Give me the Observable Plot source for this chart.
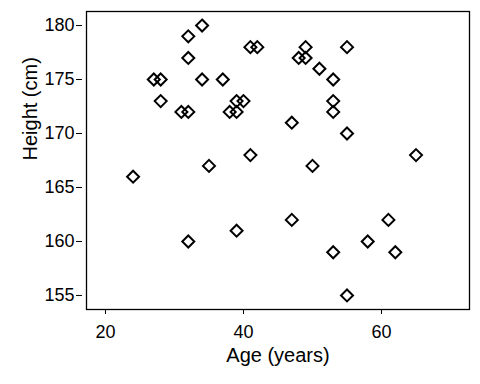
<!DOCTYPE html>
<html>
<head>
<meta charset="utf-8">
<script src="https://cdn.jsdelivr.net/npm/d3@7"></script>
<script src="https://cdn.jsdelivr.net/npm/@observablehq/plot@0.6"></script>
<style>
  html, body { margin: 0; padding: 0; background: #fff; }
  svg { display: block; }
</style>
</head>
<body>
<div id="chart"></div>
<script>
const age = [24, 27, 28, 28, 31, 32, 32, 32, 34, 34, 37, 32, 35, 38, 39, 39, 40, 39, 41, 42, 41, 47, 47, 48, 49, 49, 51, 53, 53, 53, 55, 55, 50, 53, 55, 58, 61, 62, 65];
const height = [166, 175, 175, 173, 172, 172, 179, 177, 180, 175, 175, 160, 167, 172, 172, 173, 173, 161, 178, 178, 168, 171, 162, 177, 177, 178, 176, 175, 173, 172, 178, 170, 167, 159, 155, 160, 162, 159, 168];
const xTicks = [20, 40, 60];
const yTicks = [155, 160, 165, 170, 175, 180];
const xLabel = "Age (years)";
const yLabel = "Height (cm)";

const data = age.map((a, i) => ({age: a, height: height[i]}));

const chart = Plot.plot({
  width: 480,
  height: 384,
  marginTop: 11,
  marginBottom: 75,
  marginLeft: 82,
  marginRight: 11,
  style: {fontFamily: "'Liberation Sans', Arial, sans-serif", fontSize: "18px", color: "#000", background: "#fff"},
  x: {domain: [16.67, 72.75]},
  y: {domain: [153.7, 181.3]},
  marks: [
    Plot.frame({insetLeft: 4, stroke: "#000", strokeWidth: 1.3}),
    Plot.axisX({ticks: xTicks, tickSize: 5, tickPadding: 11, label: null, fontSize: 18, stroke: "#000"}),
    Plot.axisY({ticks: yTicks, tickSize: 6, tickPadding: 2, label: null, fontSize: 18, stroke: "#000"}),
    Plot.dot(data, {x: "age", y: "height", symbol: "diamond2", r: 5.4, stroke: "#000", strokeWidth: 2, fill: "none"}),
    Plot.text([xLabel], {text: d => d, frameAnchor: "bottom", dx: 2, dy: 52, fontSize: 20}),
    Plot.text([yLabel], {text: d => d, frameAnchor: "left", rotate: -90, dx: -52, fontSize: 20})
  ]
});
document.getElementById("chart").appendChild(chart);
</script>
</body>
</html>
